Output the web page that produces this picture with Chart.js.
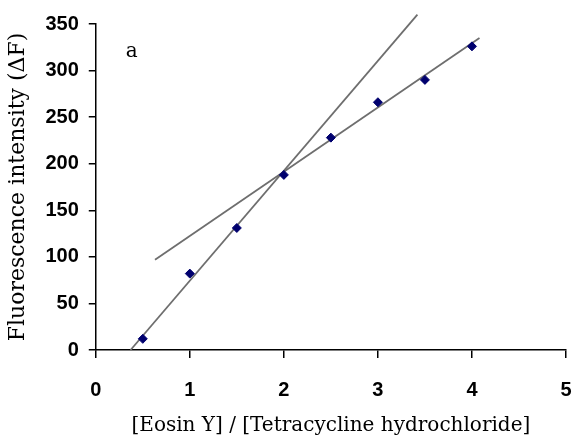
<!DOCTYPE html>
<html>
<head>
<meta charset="utf-8">
<script src="https://cdn.jsdelivr.net/npm/chart.js@4/dist/chart.umd.min.js"></script>
<style>
  html, body { margin: 0; padding: 0; background: #fff; }
  #wrap { width: 574px; height: 438px; }
</style>
</head>
<body>
<div id="wrap"><canvas id="c"></canvas></div>
<script>
// molar ratio vs. measured fluorescence change
const ratios = [0.5, 1, 1.5, 2, 2.5, 3, 3.5, 4];
const deltaF = [12, 82, 131, 188, 228, 266, 290, 326];

// two fitted lines (end points)
const steepX = [0.37, 3.42];
const steepY = [0, 360];
const shallowX = [0.63, 4.08];
const shallowY = [97, 335];

const xTicks = [0, 1, 2, 3, 4, 5];
const yTicks = [0, 50, 100, 150, 200, 250, 300, 350];

const toPts = (xs, ys) => xs.map((x, i) => ({ x, y: ys[i] }));

// small "a" panel tag
const panelTag = {
  id: 'panelTag',
  afterDraw(chart) {
    const { ctx, scales } = chart;
    ctx.save();
    ctx.font = '20px "DejaVu Serif"';
    ctx.fillStyle = '#000';
    ctx.textAlign = 'left';
    ctx.textBaseline = 'middle';
    ctx.fillText('a', scales.x.getPixelForValue(0.32), scales.y.getPixelForValue(320));
    ctx.restore();
  }
};

const tickFont = { family: '"Liberation Sans", Arial', size: 20, weight: 'bold' };

new Chart(document.getElementById('c'), {
  type: 'scatter',
  data: {
    datasets: [
      {
        data: toPts(ratios, deltaF),
        pointStyle: 'rectRot',
        pointRadius: 4.5,
        backgroundColor: '#00006e',
        borderColor: '#00006e',
        order: 0,
      },
      {
        type: 'line',
        data: toPts(steepX, steepY),
        borderColor: '#6e6e6e',
        borderWidth: 1.8,
        pointRadius: 0,
        clip: false,
        order: 1,
      },
      {
        type: 'line',
        data: toPts(shallowX, shallowY),
        borderColor: '#6e6e6e',
        borderWidth: 1.8,
        pointRadius: 0,
        order: 1,
      },
    ],
  },
  options: {
    responsive: true,
    maintainAspectRatio: false,
    animation: false,
    layout: { padding: { top: 24, right: 0, left: 1, bottom: 2 } },
    plugins: { legend: { display: false }, tooltip: { enabled: false } },
    scales: {
      x: {
        type: 'linear',
        min: 0, max: 5,
        afterBuildTicks: s => { s.ticks = xTicks.map(v => ({ value: v })); },
        // keep only the half-label overhang on the right, not the tick padding
        afterFit: s => { s.paddingRight = 8; },
        border: { color: '#000', width: 1.5 },
        grid: { drawOnChartArea: false, drawTicks: true, tickLength: 8, color: '#000', lineWidth: 1.5 },
        ticks: { color: '#000', font: tickFont, padding: 20 },
        title: { display: true, text: '[Eosin Y] / [Tetracycline hydrochloride]', color: '#000',
                 font: { family: '"DejaVu Serif"', size: 20, lineHeight: 1.0 }, padding: { top: -6, bottom: 0 } },
      },
      y: {
        type: 'linear',
        min: 0, max: 350,
        afterBuildTicks: s => { s.ticks = yTicks.map(v => ({ value: v })); },
        border: { color: '#000', width: 1.5 },
        grid: { drawOnChartArea: false, drawTicks: true, tickLength: 7, color: '#000', lineWidth: 1.5 },
        ticks: { color: '#000', font: tickFont, padding: 10 },
        title: { display: true, text: 'Fluorescence intensity (ΔF)', color: '#000',
                 font: { family: '"DejaVu Serif"', size: 22 }, padding: { bottom: 4 } },
      },
    },
  },
  plugins: [panelTag],
});
</script>
</body>
</html>
